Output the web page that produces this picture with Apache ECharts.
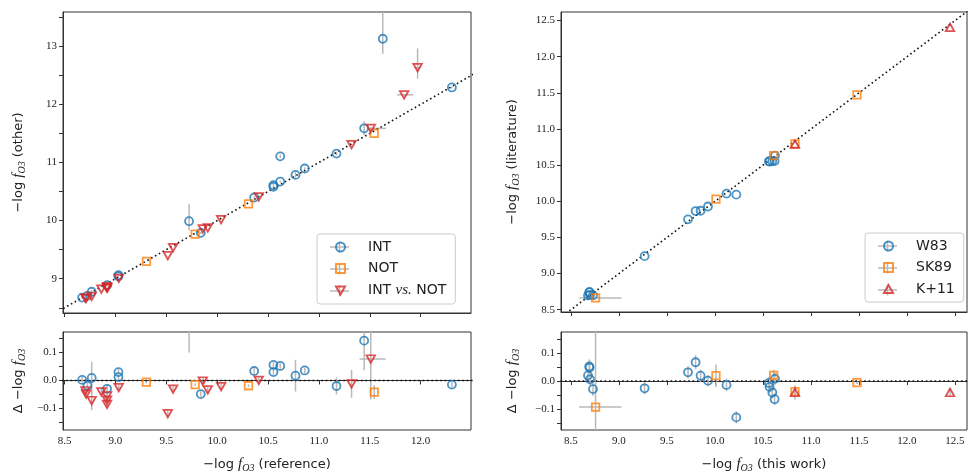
<!DOCTYPE html>
<html>
<head>
<meta charset="utf-8">
<script src="https://cdn.jsdelivr.net/npm/echarts@6/dist/echarts.min.js"></script>
<style>
html, body { margin: 0; padding: 0; background: #fff; }
#chart { width: 968px; height: 474px; }
</style>
</head>
<body>
<div id="chart"></div>
<script>
// ---- left panels: reference vs other ----
const intX = [8.673, 8.725, 8.767, 8.918, 9.030, 9.030, 9.724, 9.839, 10.364, 10.553, 10.553, 10.620, 10.620, 10.770, 10.861, 11.173, 11.445, 11.628, 12.307]
const intY = [8.675, 8.706, 8.776, 8.888, 9.060, 9.042, 9.990, 9.790, 10.398, 10.609, 10.583, 10.672, 11.106, 10.787, 10.897, 11.153, 11.588, 13.130, 12.292]
const intRes = [0.002, -0.019, 0.009, -0.030, 0.030, 0.012, 0.270, -0.049, 0.034, 0.056, 0.030, 0.052, 0.486, 0.017, 0.036, -0.020, 0.143, 1.502, -0.015]
const intYErr = [0.02, 0.02, 0.03, 0.02, 0.02, 0.02, [0.16, 0.30], 0.02, 0.02, 0.02, 0.02, 0.02, 0.03, 0.05, 0.02, 0.03, 0.12, [0.26, 0.60], 0.02]
const intResErr = [0.01, 0.01, 0.058, 0.015, 0.01, 0.01, 0.17, 0.01, 0.01, 0.01, 0.01, 0.01, 0.03, 0.057, 0.01, 0.03, 0.106, 0.5, 0.01]

const notX = [9.305, 9.784, 10.308, 11.544]
const notY = [9.299, 9.769, 10.289, 11.502]
const notRes = [-0.006, -0.015, -0.019, -0.042]
const notResErr = [0.005, 0.005, 0.005, 0.025]

const ivnX = [8.705, 8.712, 8.767, 8.862, 8.918, 8.918, 8.918, 9.033, 9.515, 9.567, 9.859, 9.908, 10.039, 10.409, 11.321, 11.510, 11.838, 11.970]
const ivnY = [8.668, 8.663, 8.695, 8.821, 8.863, 8.847, 8.832, 9.007, 9.396, 9.536, 9.857, 9.874, 10.017, 10.409, 11.309, 11.587, 12.165, 12.633]
const ivnRes = [-0.037, -0.049, -0.072, -0.041, -0.055, -0.071, -0.086, -0.026, -0.119, -0.031, -0.002, -0.034, -0.022, 0.000, -0.012, 0.077, 0.327, 0.663]
const ivnXErr = [0, 0, 0, 0, 0, 0, 0, 0, 0, 0, 0, 0, 0, 0, 0, [0.04, 0.15], [0.07, 0.09], 0.03]
const ivnYErr = [0, 0, 0, 0, 0, 0, 0, 0, 0, 0, 0, 0, 0, 0, 0.02, 0.02, 0.02, [0.19, 0.33]]
const ivnResXErr = [0, 0, 0, 0, 0, 0, 0, 0, 0, 0, 0, 0, 0, 0, 0, [0.11, 0.145], 0.08, 0.03]
const ivnResErr = [0.01, 0.01, 0.035, 0.01, 0.01, 0.01, 0.01, 0.01, 0.01, 0.01, 0.01, 0.01, 0.01, 0.01, 0.05, 0.145, 0.05, 0.3]

// ---- right panels: this work vs literature ----
const w83X = [8.690, 8.694, 8.677, 8.698, 8.729, 9.267, 9.719, 9.798, 9.850, 9.927, 10.120, 10.222, 10.562, 10.569, 10.597, 10.621, 10.625]
const w83Y = [8.742, 8.742, 8.697, 8.704, 8.700, 9.241, 9.750, 9.865, 9.869, 9.928, 10.106, 10.092, 10.555, 10.548, 10.556, 10.556, 10.633]
const w83Res = [0.052, 0.048, 0.020, 0.006, -0.029, -0.026, 0.031, 0.067, 0.019, 0.001, -0.014, -0.130, -0.007, -0.021, -0.041, -0.065, 0.008]
const w83ResErr = [0.025, 0.025, 0.022, 0.022, 0.025, 0.022, 0.022, 0.025, 0.022, 0.02, 0.022, 0.022, 0.022, 0.022, 0.022, 0.022, 0.022]

const sk89X = [8.756, 10.010, 10.611, 10.833, 11.479]
const sk89Y = [8.663, 10.029, 10.631, 10.795, 11.473]
const sk89Res = [-0.093, 0.019, 0.020, -0.038, -0.006]
const sk89XErr = [[0.17, 0.27], 0, 0, 0, 0]
const sk89ResErr = [0.4, 0.04, 0.02, 0.02, 0.005]

const k11X = [10.833, 12.448]
const k11Y = [10.792, 12.407]
const k11Res = [-0.041, -0.041]
const k11ResErr = [0.025, 0.015]

// ---- ticks ----
const leftXTicks = [8.5, 9.0, 9.5, 10.0, 10.5, 11.0, 11.5, 12.0]
const rightXTicks = [8.5, 9.0, 9.5, 10.0, 10.5, 11.0, 11.5, 12.0, 12.5]
const leftYTicks = [8.5, 9, 9.5, 10, 10.5, 11, 11.5, 12, 12.5, 13, 13.5]
const leftYLabels = [9, 10, 11, 12, 13]
const rightYTicks = [8.5, 9.0, 9.5, 10.0, 10.5, 11.0, 11.5, 12.0, 12.5]
const resTicks = [-0.15, -0.1, -0.05, 0, 0.05, 0.1, 0.15]
const resLabels = [-0.1, 0, 0.1]
const oneToOne = [8.3, 12.8]

const BLUE = '#1f77b4', ORANGE = '#ff7f0e', RED = '#d62728'
const AX = '#333'
const ERR = '#b9b9b9'
const SERIF = 'Liberation Serif'
const SANS = 'DejaVu Sans'
const DOWN_TRI = 'path://M0,0 L10,0 L5,8.66 Z'
const UP_TRI = 'path://M5,0 L10,8.66 L0,8.66 Z'

const chart = echarts.init(document.getElementById('chart'))

function pair(e) { return Array.isArray(e) ? e : [e || 0, e || 0] }

function errSeries(g, xs, ys, xe, ye) {
  return {
    type: 'custom', xAxisIndex: g, yAxisIndex: g, clip: true, z: 1, silent: true,
    encode: { x: 0, y: 1 },
    data: xs.map((x, i) => {
      const [xl, xh] = pair(xe && xe[i])
      const [yl, yh] = pair(ye && ye[i])
      return [x, ys[i], x - xl, x + xh, ys[i] - yl, ys[i] + yh]
    }),
    renderItem(params, api) {
      const x = api.value(0), y = api.value(1)
      const style = { stroke: ERR, lineWidth: 1.5 }
      const kids = []
      if (api.value(3) > api.value(2)) {
        const a = api.coord([api.value(2), y]), b = api.coord([api.value(3), y])
        kids.push({ type: 'line', shape: { x1: a[0], y1: a[1], x2: b[0], y2: b[1] }, style })
      }
      if (api.value(5) > api.value(4)) {
        const a = api.coord([x, api.value(4)]), b = api.coord([x, api.value(5)])
        kids.push({ type: 'line', shape: { x1: a[0], y1: a[1], x2: b[0], y2: b[1] }, style })
      }
      return { type: 'group', children: kids }
    }
  }
}

function markSeries(name, g, xs, ys, symbol, color, size) {
  return {
    name, type: 'scatter', xAxisIndex: g, yAxisIndex: g, clip: true, z: 3,
    symbol, symbolSize: size,
    itemStyle: { color: 'rgba(255,255,255,0)', borderColor: color, borderWidth: 1.8 },
    data: xs.map((x, i) => [x, ys[i]])
  }
}

function refLine(g, pts) {
  return {
    type: 'line', xAxisIndex: g, yAxisIndex: g, clip: true, z: 2, silent: true,
    showSymbol: false, symbol: 'none', data: pts,
    lineStyle: { color: '#111', width: 1.6, type: [1.6, 2.8] }
  }
}

const nameRich = {
  f: { fontFamily: SERIF, fontStyle: 'italic', fontSize: 15, color: '#222' },
  s: { fontFamily: SERIF, fontStyle: 'italic', fontSize: 10, color: '#222', padding: [7, 0, 0, 0] }
}
function nameStyle() {
  return { fontFamily: SANS, fontSize: 13, color: '#222', rich: nameRich }
}
const fO3 = '{f|f}{s|O3}'

function xAxis(g, min, max, ticks, labels, name) {
  return {
    type: 'value', gridIndex: g, min, max,
    axisLine: { show: true, lineStyle: { color: AX, width: 1 } },
    axisTick: { show: true, length: 4, customValues: ticks, lineStyle: { color: AX } },
    axisLabel: labels ? { show: true, customValues: labels, margin: 6, fontFamily: SERIF, fontSize: 11, color: '#222',
      formatter: v => v.toFixed(1) } : { show: false },
    splitLine: { show: false },
    name: name || '', nameLocation: 'middle', nameGap: 26, nameTextStyle: nameStyle()
  }
}

function yAxis(g, min, max, ticks, labels, fmt, name, gap) {
  return {
    type: 'value', gridIndex: g, min, max,
    axisLine: { show: true, lineStyle: { color: AX, width: 1 } },
    axisTick: { show: true, length: 4, customValues: ticks, lineStyle: { color: AX } },
    axisLabel: { show: true, customValues: labels, margin: 6, fontFamily: SERIF, fontSize: 11, color: '#222', formatter: fmt },
    splitLine: { show: false },
    name, nameLocation: 'middle', nameGap: gap, nameTextStyle: nameStyle()
  }
}

const resFmt = v => (Math.abs(v) < 1e-9 ? '0.0' : (v < 0 ? '\u2212' + Math.abs(v).toFixed(1) : v.toFixed(1)))

const grid = [
  { left: 63, top: 12, width: 408, height: 301 },
  { left: 63, top: 332, width: 408, height: 101 },
  { left: 561, top: 12, width: 406, height: 300 },
  { left: 561, top: 332, width: 406, height: 100 }
].map(g => Object.assign(g, { show: true, borderColor: AX, borderWidth: 1, backgroundColor: 'transparent' }))

const legendBase = {
  orient: 'vertical', itemWidth: 9, itemHeight: 9, itemGap: 7.5, z: 5,
  padding: [6, 9, 6, 18], borderColor: '#cccccc', borderWidth: 1, borderRadius: 3,
  backgroundColor: 'transparent',
  textStyle: { fontFamily: SANS, fontSize: 14, color: '#222', lineHeight: 12, padding: [0, 0, 0, 18],
    rich: { i: { fontFamily: SERIF, fontStyle: 'italic', fontSize: 15, lineHeight: 12, color: '#222' } } },
  formatter: n => n === 'INT vs. NOT' ? 'INT {i|vs.} NOT' : n,
  selectedMode: false
}

// grey error-bar crosses behind the legend keys, as matplotlib draws them
const legendKeys = [[339.5, 247], [339.5, 269], [339.5, 291], [887.5, 246], [887.5, 268], [887.5, 290]]
const graphic = []
legendKeys.forEach(([cx, cy]) => {
  graphic.push({ type: 'line', z: 4, silent: true, shape: { x1: cx - 9.5, y1: cy, x2: cx + 9.5, y2: cy }, style: { stroke: ERR, lineWidth: 1.5 } })
  graphic.push({ type: 'line', z: 4, silent: true, shape: { x1: cx, y1: cy - 5.5, x2: cx, y2: cy + 5.5 }, style: { stroke: ERR, lineWidth: 1.5 } })
})

chart.setOption({
  animation: false,
  grid,
  graphic,
  legend: [
    Object.assign({}, legendBase, { left: 317, top: 234,
      data: ['INT', 'NOT', { name: 'INT vs. NOT', icon: DOWN_TRI }] }),
    Object.assign({}, legendBase, { left: 865, top: 233,
      data: ['W83', 'SK89', { name: 'K+11', icon: UP_TRI }] })
  ],
  xAxis: [
    xAxis(0, 8.485, 12.495, leftXTicks, null),
    xAxis(1, 8.485, 12.495, leftXTicks, leftXTicks, '\u2212log ' + fO3 + ' (reference)'),
    xAxis(2, 8.396, 12.625, rightXTicks, null),
    xAxis(3, 8.396, 12.625, rightXTicks, rightXTicks, '\u2212log ' + fO3 + ' (this work)')
  ],
  yAxis: [
    yAxis(0, 8.41, 13.59, leftYTicks, leftYLabels, v => String(Math.round(v)), '\u2212log ' + fO3 + ' (other)', 36),
    yAxis(1, -0.178, 0.174, resTicks, resLabels, resFmt, '\u0394 \u2212log ' + fO3, 36),
    yAxis(2, 8.468, 12.619, rightYTicks, rightYTicks, v => v.toFixed(1), '\u2212log ' + fO3 + ' (literature)', 40),
    yAxis(3, -0.175, 0.175, resTicks, resLabels, resFmt, '\u0394 \u2212log ' + fO3, 40)
  ],
  series: [
    refLine(0, oneToOne.map(v => [v, v])),
    refLine(1, oneToOne.map(v => [v, 0])),
    refLine(2, oneToOne.map(v => [v, v])),
    refLine(3, oneToOne.map(v => [v, 0])),

    errSeries(0, intX, intY, null, intYErr),
    errSeries(0, notX, notY, null, null),
    errSeries(0, ivnX, ivnY, ivnXErr, ivnYErr),
    errSeries(1, intX, intRes, null, intResErr),
    errSeries(1, notX, notRes, null, notResErr),
    errSeries(1, ivnX, ivnRes, ivnResXErr, ivnResErr),
    errSeries(2, sk89X, sk89Y, sk89XErr, null),
    errSeries(3, w83X, w83Res, null, w83ResErr),
    errSeries(3, sk89X, sk89Res, sk89XErr, sk89ResErr),
    errSeries(3, k11X, k11Res, null, k11ResErr),

    markSeries('INT', 0, intX, intY, 'circle', BLUE, 8),
    markSeries('NOT', 0, notX, notY, 'rect', ORANGE, 7.5),
    markSeries('INT vs. NOT', 0, ivnX, ivnY, DOWN_TRI, RED, [8.5, 7.5]),
    markSeries('INT', 1, intX, intRes, 'circle', BLUE, 8),
    markSeries('NOT', 1, notX, notRes, 'rect', ORANGE, 7.5),
    markSeries('INT vs. NOT', 1, ivnX, ivnRes, DOWN_TRI, RED, [8.5, 7.5]),
    markSeries('W83', 2, w83X, w83Y, 'circle', BLUE, 8),
    markSeries('SK89', 2, sk89X, sk89Y, 'rect', ORANGE, 7.5),
    markSeries('K+11', 2, k11X, k11Y, UP_TRI, RED, [8.5, 7.5]),
    markSeries('W83', 3, w83X, w83Res, 'circle', BLUE, 8),
    markSeries('SK89', 3, sk89X, sk89Res, 'rect', ORANGE, 7.5),
    markSeries('K+11', 3, k11X, k11Res, UP_TRI, RED, [8.5, 7.5])
  ]
})
</script>
</body>
</html>
